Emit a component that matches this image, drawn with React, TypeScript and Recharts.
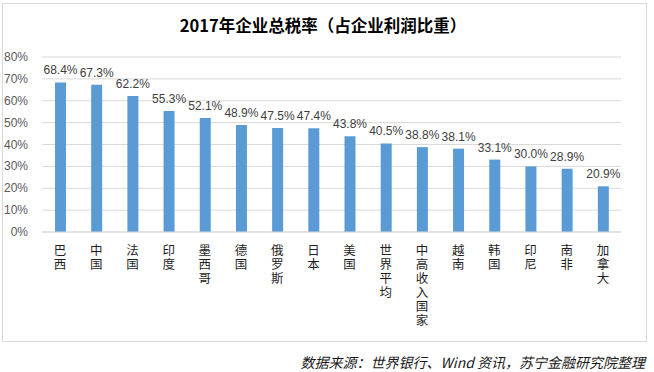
import React from "react"
import { BarChart, Bar, XAxis, YAxis, CartesianGrid, LabelList } from "recharts"

const CATEGORIES = [
    "巴西", "中国", "法国", "印度", "墨西哥", "德国", "俄罗斯", "日本",
    "美国", "世界平均", "中高收入国家", "越南", "韩国", "印尼", "南非", "加拿大"
]

const TAX_RATES = [68.4, 67.3, 62.2, 55.3, 52.1, 48.9, 47.5, 47.4, 43.8, 40.5, 38.8, 38.1, 33.1, 30.0, 28.9, 20.9]

const Y_TICKS = [0, 10, 20, 30, 40, 50, 60, 70, 80]

const TITLE = "2017年企业总税率（占企业利润比重）"
const SOURCE = "数据来源：世界银行、Wind 资讯，苏宁金融研究院整理"

const data = CATEGORIES.map((name, i) => ({ name, value: TAX_RATES[i] }))

const FONT = "'Liberation Sans', 'Noto Sans CJK SC', sans-serif"
const CJK = "'Noto Sans CJK SC', sans-serif"

// 竖排的类目标签，一个字一行
const VerticalTick = (props: any) => {
    const { x, y, payload } = props
    const chars = String(payload.value).split("")
    return (
        <text
            x={x}
            y={y + 17}
            textAnchor="middle"
            dominantBaseline="central"
            fontSize={12.5}
            fontFamily={CJK}
            fill="#1f1f1f"
        >
            {chars.map((c, i) => (
                <tspan key={i} x={x} dy={i === 0 ? 0 : 14}>{c}</tspan>
            ))}
        </text>
    )
}

const PercentTick = (props: any) => {
    const { x, y, payload } = props
    return (
        <text x={x - 14} y={y} textAnchor="end" dominantBaseline="central" fontSize={12} fontFamily={FONT} fill="#595959">
            {`${payload.value}%`}
        </text>
    )
}

export default function App() {
    return (
        <div style={{ position: "absolute", left: 0, top: 0, width: 654, height: 372, background: "#fff", fontFamily: FONT }}>
            <div style={{ position: "absolute", left: 2, top: 3, width: 643, height: 337, border: "1px solid #d9d9d9" }} />
            <div
                style={{
                    position: "absolute", left: 0, top: 13, width: 646, textAlign: "center",
                    fontFamily: CJK, fontWeight: 700, fontSize: 16.5, color: "#000", lineHeight: "24px"
                }}
            >
                {TITLE}
            </div>
            <BarChart
                width={654}
                height={372}
                data={data}
                margin={{ top: 57, right: 33, bottom: 0, left: 0 }}
                style={{ position: "absolute", left: 0, top: 0 }}
            >
                <CartesianGrid vertical={false} stroke="#d9d9d9" />
                <XAxis
                    dataKey="name"
                    interval={0}
                    tickLine={false}
                    axisLine={{ stroke: "#d9d9d9" }}
                    tickSize={0}
                    tickMargin={0}
                    height={140}
                    tick={<VerticalTick />}
                />
                <YAxis
                    domain={[0, 80]}
                    ticks={Y_TICKS}
                    interval={0}
                    width={42}
                    tickLine={false}
                    axisLine={false}
                    tickSize={0}
                    tickMargin={0}
                    tick={<PercentTick />}
                />
                <Bar dataKey="value" fill="#5b9bd5" barSize={11} isAnimationActive={false}>
                    <LabelList
                        dataKey="value"
                        position="top"
                        offset={8}
                        formatter={(v: any) => `${Number(v).toFixed(1)}%`}
                        style={{ fontSize: 12, fontFamily: FONT, fill: "#404040" }}
                    />
                </Bar>
            </BarChart>
            <div
                style={{
                    position: "absolute", right: 9, top: 352, fontFamily: CJK, fontStyle: "italic",
                    fontSize: 14, color: "#1a1a1a", lineHeight: "20px", whiteSpace: "nowrap"
                }}
            >
                {SOURCE}
            </div>
        </div>
    )
}
